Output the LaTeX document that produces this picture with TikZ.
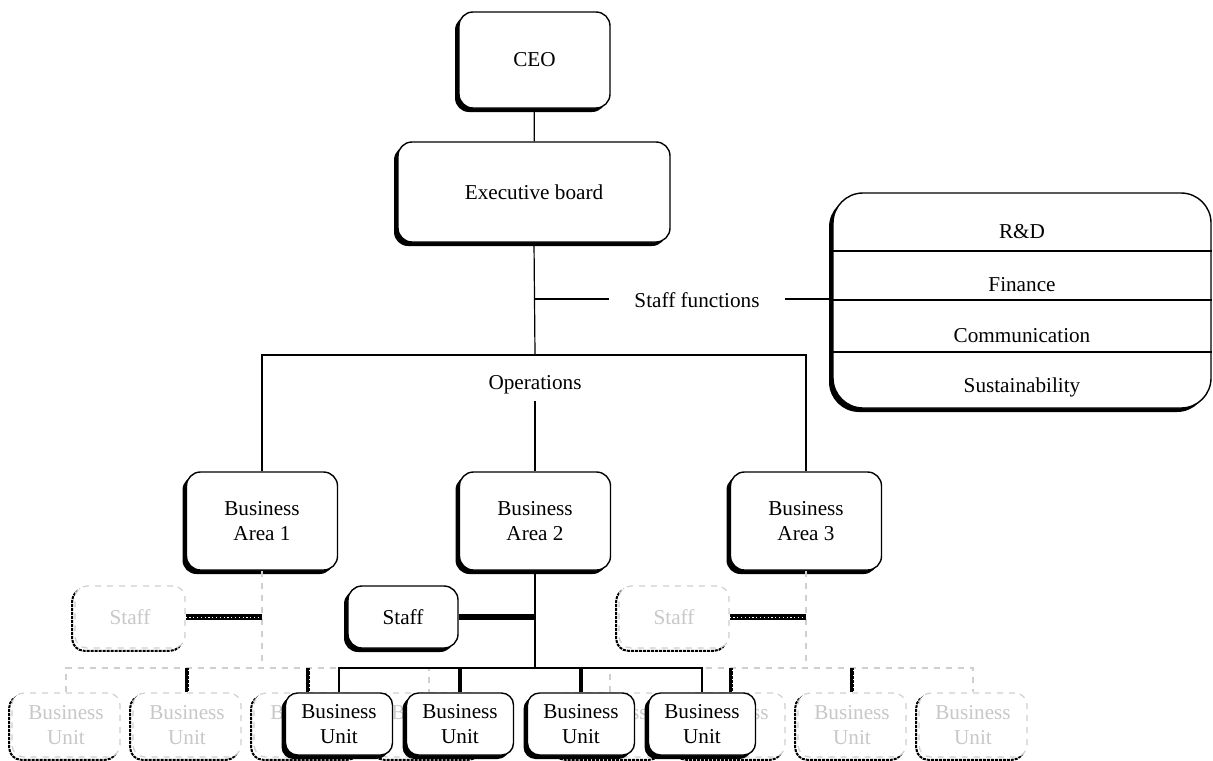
\documentclass[tikz,border=0pt]{standalone}
\usepackage{fontspec}
\setmainfont{Liberation Serif}
\usetikzlibrary{shadows}
\definecolor{ghosttext}{HTML}{C8C8C8}
\definecolor{ghostline}{HTML}{CFCFCF}
\newcommand{\myfont}{\fontsize{10.6}{12.6}\selectfont}
\begin{document}
\begin{tikzpicture}[x=0.5pt,y=-0.5pt,
  box/.style={draw, line width=0.7pt, fill=white, rounded corners=7pt, align=center, font=\myfont,
    general shadow={fill=black, shadow xshift=-2pt, shadow yshift=-2pt}},
  ghost/.style={draw=ghostline, dashed, line width=0.6pt, fill=white, rounded corners=6pt, align=center,
    text=ghosttext, font=\myfont,
    general shadow={draw=black, fill=white, solid, dash pattern=on 1.5pt off 0.5pt, line width=1pt,
      shadow xshift=-1.4pt, shadow yshift=-1.4pt}},
  lbl/.style={font=\myfont},
  conn/.style={line width=0.6pt},
  gconn/.style={draw=ghostline, dashed, line width=0.6pt},
  hatch/.style={line width=2.8pt, black, postaction={draw=white, line width=0.5pt, dash pattern=on 0.6pt off 1.3pt}},
  vhatch/.style={line width=2.4pt, black, postaction={draw=white, line width=0.5pt, dash pattern=on 0.5pt off 1.6pt, transform canvas={xshift=0.6pt}}},
  heavy/.style={line width=2.6pt},
  unitsz/.style={minimum width=53.5pt, minimum height=31pt},
  gunitsz/.style={minimum width=54pt, minimum height=32pt},
  staffsz/.style={minimum width=55pt, minimum height=31pt},
  areasz/.style={minimum width=75.5pt, minimum height=49pt}]
\useasboundingbox (0,0) rectangle (1213,760);

% top
\node[box, minimum width=75.5pt, minimum height=48pt] (ceo) at (534.5,60) {CEO};
\node[box, minimum width=136pt, minimum height=50pt] (exec) at (534,192) {Executive board};
\draw[conn] (ceo) -- (exec);

\coordinate (j2) at (535,299);
\coordinate (j1) at (535,355);
\coordinate (j3) at (535,668);
\coordinate (j4) at (262,668);
\coordinate (j5) at (806,668);

% staff functions box
\node[box, rounded corners=15pt, minimum width=189pt, minimum height=107.5pt] (sf) at (1022,300.5) {};
\coordinate (d1) at (1000,251);
\coordinate (d2) at (1000,300);
\coordinate (d3) at (1000,352);
\draw[line width=0.7pt] (sf.west |- d1) -- (sf.east |- d1);
\draw[line width=0.7pt] (sf.west |- d2) -- (sf.east |- d2);
\draw[line width=0.7pt] (sf.west |- d3) -- (sf.east |- d3);
\node[lbl] (rd) at (1022,232) {R\&D};
\node[lbl] (fin) at (1022,285) {Finance};
\node[lbl] (com) at (1022,336) {Communication};
\node[lbl] (sus) at (1022,387) {Sustainability};

\node[lbl, inner xsep=12.5pt] (sfl) at (697,300) {Staff functions};
\draw[conn] (exec.south) -- (j1);
\draw[conn] (j2) -- (sfl.west |- j2);
\draw[conn] (sfl.east |- j2) -- (sf.west |- j2);

% operations
\node[lbl] (ops) at (535,385) {Operations};
\node[box, areasz] (ba1) at (262,521) {Business\\Area 1};
\node[box, areasz] (ba2) at (535,521) {Business\\Area 2};
\node[box, areasz] (ba3) at (806,521) {Business\\Area 3};
\draw[conn] (ba1.north) |- (j1) -| (ba3.north);
\draw[conn] (ops.south) -- (ba2.north);

% ghost structure (areas 1 and 3)
\draw[gconn] (ba1.south) -- (j4);
\draw[gconn] (ba3.south) -- (j5);
\node[ghost, staffsz] (st1) at (130,617) {Staff};
\node[ghost, staffsz] (st3) at (674,617) {Staff};
\draw[hatch] (st1.east) -- (st1.east -| ba1.south);
\draw[hatch] (st3.east) -- (st3.east -| ba3.south);

\node[ghost, gunitsz] (g1) at (66,725) {Business\\Unit};
\node[ghost, gunitsz] (g2) at (187,725) {Business\\Unit};
\node[ghost, gunitsz] (g3) at (308,725) {Business\\Unit};
\node[ghost, gunitsz] (g4) at (429,725) {Business\\Unit};
\node[ghost, gunitsz] (g5) at (610,725) {Business\\Unit};
\node[ghost, gunitsz] (g6) at (731,725) {Business\\Unit};
\node[ghost, gunitsz] (g7) at (852,725) {Business\\Unit};
\node[ghost, gunitsz] (g8) at (973,725) {Business\\Unit};
\draw[gconn] (g1.north) |- (j4) -| (g4.north);
\draw[gconn] (g5.north) |- (j5) -| (g8.north);
\draw[vhatch] (g2.north) -- (g2.north |- j4);
\draw[vhatch] (g3.north) -- (g3.north |- j4);
\draw[vhatch] (g6.north) -- (g6.north |- j5);
\draw[vhatch] (g7.north) -- (g7.north |- j5);

% solid structure (area 2)
\node[box, staffsz] (st2) at (403,617) {Staff};
\draw[conn] (ba2.south) -- (j3);
\draw[heavy] (st2.east) -- (st2.east -| ba2.south);
\node[box, unitsz, rounded corners=6pt] (bu1) at (339,724) {Business\\Unit};
\node[box, unitsz, rounded corners=6pt] (bu2) at (460,724) {Business\\Unit};
\node[box, unitsz, rounded corners=6pt] (bu3) at (581,724) {Business\\Unit};
\node[box, unitsz, rounded corners=6pt] (bu4) at (702,724) {Business\\Unit};
\draw[conn] (bu1.north) |- (j3) -| (bu4.north);
\draw[line width=2pt] (bu2.north) -- (bu2.north |- j3);
\draw[line width=2pt] (bu3.north) -- (bu3.north |- j3);
\end{tikzpicture}
\end{document}
